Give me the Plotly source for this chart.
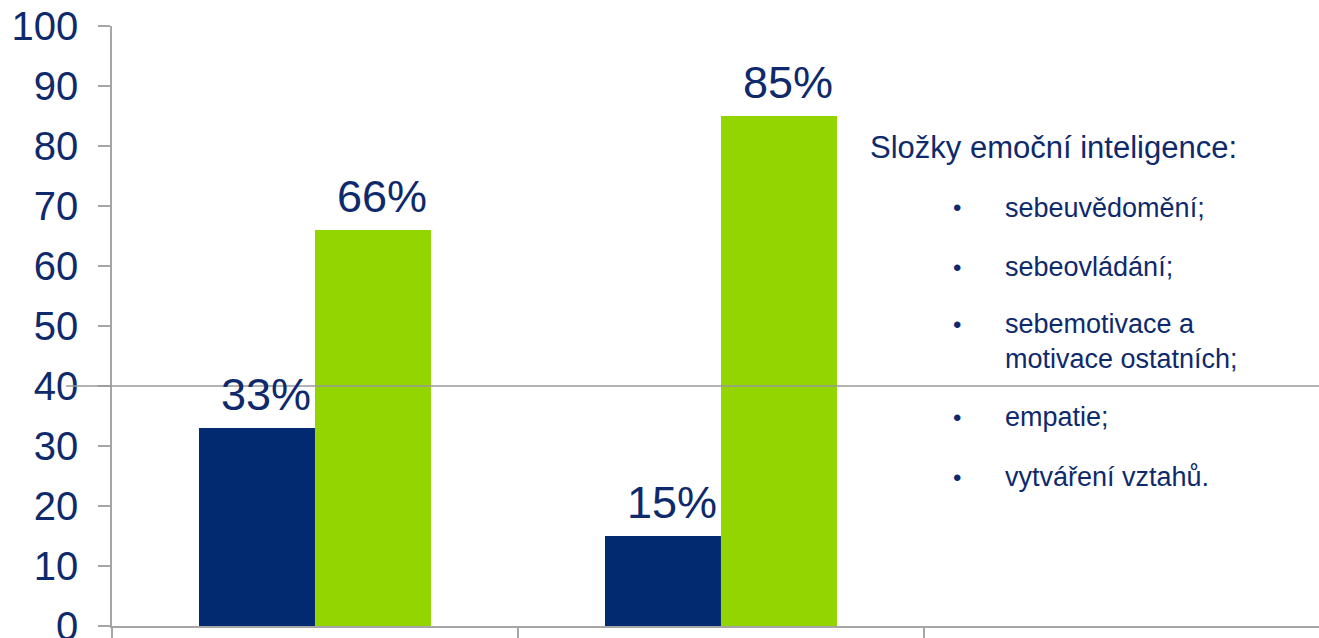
import plotly.graph_objects as go

categories = [0, 1]
series1_values = [33, 15]
series2_values = [66, 85]
series1_color = "#012a70"
series2_color = "#93d500"
text_color = "#0e2a6c"
y_min, y_max = 0, 100
y_ticks = [0, 10, 20, 30, 40, 50, 60, 70, 80, 90, 100]
ref_line_value = 40
legend_title = "Složky emoční inteligence:"
legend_items = ["sebeuvědomění;", "sebeovládání;", "sebemotivace a<br>motivace ostatních;", "empatie;", "vytváření vztahů."]
legend_item_y = [0.697, 0.598, 0.474, 0.348, 0.248]
legend_bullet_y = [0.697, 0.598, 0.502, 0.348, 0.248]

FONT = "Liberation Sans, Arial, sans-serif"

fig = go.Figure()
fig.add_trace(go.Bar(x=categories, y=series1_values, marker=dict(color=series1_color, line=dict(width=0)),
                     offsetgroup="a", showlegend=False, hoverinfo="skip"))
fig.add_trace(go.Bar(x=categories, y=series2_values, marker=dict(color=series2_color, line=dict(width=0)),
                     offsetgroup="b", showlegend=False, hoverinfo="skip"))

annotations = []
bar_w = 0.2857
for i, c in enumerate(categories):
    for off, vals in ((-bar_w / 2, series1_values), (bar_w / 2, series2_values)):
        annotations.append(dict(x=c + off, y=vals[i], xref="x", yref="y", text=f"{vals[i]}%",
                                showarrow=False, yanchor="bottom", yshift=6, xshift=9,
                                font=dict(family=FONT, size=45, color=text_color)))

annotations.append(dict(x=0.626, y=0.797, xref="paper", yref="paper", text=legend_title, showarrow=False,
                        xanchor="left", yanchor="middle", font=dict(family=FONT, size=31, color=text_color)))
for t, yy, by in zip(legend_items, legend_item_y, legend_bullet_y):
    annotations.append(dict(x=0.695, y=by, xref="paper", yref="paper", text="•", showarrow=False,
                            xanchor="left", yanchor="middle", font=dict(family=FONT, size=24, color=text_color)))
    annotations.append(dict(x=0.738, y=yy, xref="paper", yref="paper", text=t, showarrow=False,
                            xanchor="left", yanchor="middle", align="left",
                            font=dict(family=FONT, size=27, color=text_color)))

ref_y = (ref_line_value - y_min) / (y_max - y_min)
fig.add_shape(type="line", xref="paper", yref="paper", x0=-0.038, x1=1.0, y0=ref_y, y1=ref_y,
              line=dict(color="#999999", width=1.6), layer="above")

fig.update_layout(
    width=1319, height=638,
    margin=dict(l=112, r=0, t=26, b=12, autoexpand=False),
    paper_bgcolor="white", plot_bgcolor="white",
    barmode="group", bargap=0.4286, bargroupgap=0,
    annotations=annotations,
    xaxis=dict(range=[-0.5, 2.473], showgrid=False, zeroline=False, showline=True, linecolor="#a6a6a6",
               linewidth=1.5, tickvals=[-0.5, 0.5, 1.5], ticks="outside", ticklen=14, tickcolor="#a6a6a6",
               tickwidth=1.5, showticklabels=False, automargin=False),
    yaxis=dict(range=[y_min, y_max], tickvals=y_ticks, showgrid=False, zeroline=False, showline=True,
               linecolor="#a6a6a6", linewidth=1.5, ticks="outside", ticklen=12, tickcolor="#a6a6a6",
               tickwidth=1.5, ticklabelstandoff=12, ticklabeloverflow="allow", automargin=False,
               tickfont=dict(family=FONT, size=40, color=text_color)),
)

fig.write_html("out.html", config={"displayModeBar": False},
               post_script=("document.documentElement.style.overflow='hidden';"
                            "document.body.style.margin='0';document.body.style.overflow='hidden';"))
